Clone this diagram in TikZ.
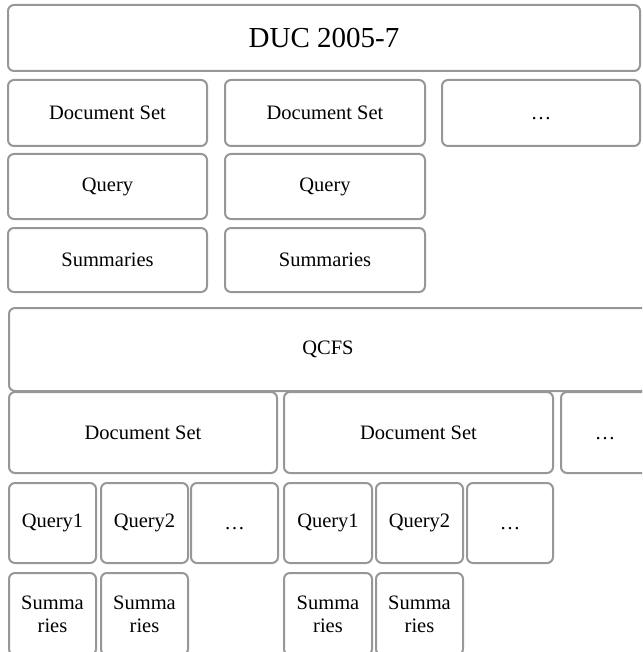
\documentclass[tikz,border=0pt]{standalone}
\usepackage{fontspec}
\setmainfont{Liberation Serif}
\definecolor{boxline}{HTML}{979797}
\newcommand{\dotsbox}{\vphantom{D}…}
\begin{document}
\begin{tikzpicture}[x=1pt,y=-1pt,
  bx/.style={draw=boxline, line width=2pt, rounded corners=6pt, rectangle, inner sep=0pt,
    font=\fontsize{20.5}{23}\selectfont, align=center},
  big/.style={bx, font=\fontsize{29}{33}\selectfont}]
\useasboundingbox (0,0) rectangle (642,652);
\clip (0,0) rectangle (642,652);
% DUC part
\node[big, minimum width=632pt, minimum height=66pt] (duc) at (324,38) {DUC 2005-7};
\node[bx, minimum width=199pt, minimum height=66pt] (ds1) at (107.5,113) {Document Set};
\node[bx, minimum width=200pt, minimum height=66pt] (ds2) at (325,113) {Document Set};
\node[bx, minimum width=198pt, minimum height=66pt] (ds3) at (541,113) {\dotsbox};
\node[bx, minimum width=199pt, minimum height=65pt] (q1) at (107.5,186.5) {Query};
\node[bx, minimum width=200pt, minimum height=65pt] (q2) at (325,186.5) {Query};
\node[bx, minimum width=199pt, minimum height=64pt] (s1) at (107.5,260) {Summaries};
\node[bx, minimum width=200pt, minimum height=64pt] (s2) at (325,260) {Summaries};
% QCFS part
\node[bx, minimum width=638pt, minimum height=83pt] (qcfs) at (328,349.5) {QCFS};
\node[bx, minimum width=268pt, minimum height=81pt] (qds1) at (143,432.5) {Document Set};
\node[bx, minimum width=269pt, minimum height=81pt] (qds2) at (418.5,432.5) {Document Set};
\node[bx, minimum width=88pt, minimum height=81pt] (qds3) at (605,432.5) {\dotsbox};
\node[bx, minimum width=87pt, minimum height=80pt] (qq1) at (52.5,523) {Query1};
\node[bx, minimum width=87pt, minimum height=80pt] (qq2) at (144.5,523) {Query2};
\node[bx, minimum width=87pt, minimum height=80pt] (qq3) at (234.5,523) {\dotsbox};
\node[bx, minimum width=88pt, minimum height=80pt] (qq4) at (328,523) {Query1};
\node[bx, minimum width=87pt, minimum height=80pt] (qq5) at (419.5,523) {Query2};
\node[bx, minimum width=86pt, minimum height=80pt] (qq6) at (510,523) {\dotsbox};
\node[bx, minimum width=87pt, minimum height=82pt] (qs1) at (52.5,614) {Summa\\ries};
\node[bx, minimum width=87pt, minimum height=82pt] (qs2) at (144.5,614) {Summa\\ries};
\node[bx, minimum width=88pt, minimum height=82pt] (qs4) at (328,614) {Summa\\ries};
\node[bx, minimum width=87pt, minimum height=82pt] (qs5) at (419.5,614) {Summa\\ries};
\end{tikzpicture}
\end{document}
